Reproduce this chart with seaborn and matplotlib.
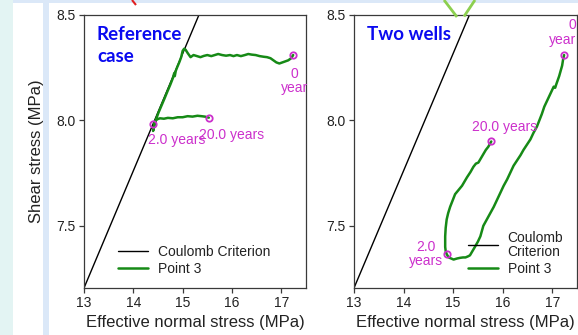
import matplotlib
matplotlib.use("Agg")
import matplotlib.pyplot as plt
from matplotlib.lines import Line2D
from matplotlib.patches import Rectangle
import pandas as pd
import seaborn as sns

W, H, DPI = 578, 335, 100

# axis ranges and ticks
x_lim = (13.0, 17.5)
y_lim = (7.205, 8.5)
x_ticks = [13, 14, 15, 16, 17]
y_ticks = [7.5, 8.0, 8.5]

# Coulomb failure line (end points)
coulomb_sigma = [13.0, 15.5]
coulomb_tau = [7.205, 8.595]

# Point 3 stress path, reference case (0 year -> 2.0 years -> 20.0 years)
ref_sigma = [17.24, 17.20, 17.14, 17.08, 17.02, 16.96, 16.90, 16.84, 16.78, 16.71,
             16.64, 16.56, 16.48, 16.40, 16.33, 16.26, 16.18, 16.10, 16.03, 15.96,
             15.88, 15.80, 15.72, 15.65, 15.58, 15.50, 15.43, 15.36, 15.29, 15.22,
             15.16, 15.10, 15.06, 15.03, 15.00, 14.97, 14.93, 14.89, 14.86, 14.84,
             14.83, 14.80, 14.75, 14.69, 14.63, 14.57, 14.51, 14.46, 14.42, 14.40,
             14.41, 14.44, 14.48, 14.54, 14.62, 14.70, 14.80, 14.90, 15.00, 15.10,
             15.20, 15.30, 15.38, 15.45, 15.53]
ref_tau = [8.31, 8.295, 8.285, 8.28, 8.275, 8.27, 8.275, 8.285, 8.295, 8.30,
           8.302, 8.305, 8.31, 8.312, 8.315, 8.31, 8.305, 8.31, 8.305, 8.31,
           8.307, 8.31, 8.315, 8.31, 8.305, 8.31, 8.306, 8.30, 8.305, 8.31,
           8.30, 8.32, 8.335, 8.34, 8.33, 8.30, 8.275, 8.253, 8.235, 8.21,
           8.225, 8.20, 8.17, 8.137, 8.103, 8.07, 8.037, 8.005, 7.975, 7.95,
           7.96, 7.995, 8.005, 8.01, 8.008, 8.012, 8.01, 8.015, 8.015, 8.02,
           8.018, 8.022, 8.02, 8.018, 8.013]

# Point 3 stress path, two wells
wells_sigma = [17.24, 17.22, 17.20, 17.17, 17.14, 17.11, 17.08, 17.06, 17.03, 17.01,
               16.99, 16.96, 16.93, 16.89, 16.84, 16.79, 16.74, 16.69, 16.62, 16.56,
               16.49, 16.42, 16.36, 16.29, 16.22, 16.15, 16.09, 16.02, 15.95, 15.88,
               15.82, 15.75, 15.68, 15.61, 15.58, 15.55, 15.50, 15.44, 15.39, 15.34,
               15.30, 15.25, 15.20, 15.14, 15.08, 15.01, 14.96, 14.91, 14.87, 14.85,
               14.84, 14.84, 14.85, 14.87, 14.90, 14.94, 14.99, 15.04, 15.11, 15.18,
               15.23, 15.28, 15.35, 15.41, 15.46, 15.51, 15.56, 15.61, 15.66, 15.71,
               15.77]
wells_tau = [8.31, 8.29, 8.26, 8.235, 8.21, 8.19, 8.17, 8.155, 8.16, 8.15,
             8.14, 8.125, 8.11, 8.09, 8.065, 8.03, 8.00, 7.97, 7.94, 7.91,
             7.885, 7.86, 7.835, 7.81, 7.785, 7.75, 7.72, 7.69, 7.655, 7.62,
             7.59, 7.56, 7.53, 7.50, 7.475, 7.45, 7.425, 7.40, 7.38, 7.36,
             7.355, 7.35, 7.35, 7.348, 7.345, 7.34, 7.345, 7.35, 7.366, 7.38,
             7.40, 7.45, 7.49, 7.53, 7.56, 7.59, 7.62, 7.65, 7.67, 7.69,
             7.71, 7.73, 7.755, 7.78, 7.795, 7.80, 7.82, 7.84, 7.86, 7.875,
             7.90]

# time markers: 0 year, 2.0 years, 20.0 years
ref_mark_sigma = [17.24, 14.40, 15.53]
ref_mark_tau = [8.31, 7.983, 8.013]
wells_mark_sigma = [17.24, 14.87, 15.77]
wells_mark_tau = [8.31, 7.366, 7.90]

# time labels: (text, sigma, tau, ha)
ref_labels = [("0\nyear", 17.26, 8.187, "center"),
              ("2.0 years", 14.29, 7.908, "left"),
              ("20.0 years", 15.34, 7.931, "left")]
wells_labels = [("0\nyear", 17.485, 8.417, "right"),
                ("2.0\nyears", 14.455, 7.367, "center"),
                ("20.0 years", 16.04, 7.969, "center")]

GREEN = "#168a16"
MAGENTA = "#cc30cc"
BLUE = "#0a0af0"
SPINE = "#3a3a3a"

sns.set_style("ticks")
plt.rcParams["font.family"] = ["Liberation Sans", "DejaVu Sans"]
plt.rcParams["font.size"] = 10

fig = plt.figure(figsize=(W / DPI, H / DPI), dpi=DPI)
fig.patch.set_facecolor("#dbe8f8")


def px_rect(x0, y0, x1, y1, color):
    fig.patches.append(Rectangle((x0 / W, 1 - y1 / H), (x1 - x0) / W, (y1 - y0) / H,
                                 transform=fig.transFigure, facecolor=color,
                                 edgecolor="none", zorder=-10))


def px_line(x0, y0, x1, y1, color, lw):
    fig.lines.append(Line2D([x0 / W, x1 / W], [1 - y0 / H, 1 - y1 / H],
                            transform=fig.transFigure, color=color, lw=lw,
                            solid_capstyle="butt"))


# slide background
px_rect(0, 0, 13, H, "#e3f4f3")
px_rect(13, 3, 43, H, "white")
px_rect(49, 3, W, H, "white")

ax_left = fig.add_axes([84 / W, 1 - 288 / H, 222 / W, 273 / H])
ax_right = fig.add_axes([354 / W, 1 - 288 / H, 223 / W, 273 / H])

panels = [
    (ax_left, "Reference\ncase", ref_sigma, ref_tau, ref_mark_sigma, ref_mark_tau,
     ref_labels, "Coulomb Criterion", (0.153, 0.158)),
    (ax_right, "Two wells", wells_sigma, wells_tau, wells_mark_sigma, wells_mark_tau,
     wells_labels, "Coulomb\nCriterion", (0.511, 0.210)),
]

for ax, title, sig, tau, msig, mtau, labels, crit_label, leg_pos in panels:
    crit = pd.DataFrame({"sigma": coulomb_sigma, "tau": coulomb_tau})
    path = pd.DataFrame({"sigma": sig, "tau": tau})
    sns.lineplot(data=crit, x="sigma", y="tau", ax=ax, color="black", lw=1.0,
                 sort=False, estimator=None, label=crit_label)
    sns.lineplot(data=path, x="sigma", y="tau", ax=ax, color=GREEN, lw=1.8,
                 sort=False, estimator=None, label="Point 3")
    ax.plot(msig, mtau, "o", ms=4.6, mfc="none", mec=MAGENTA, mew=1.3, zorder=5)
    for text, sx, ty, ha in labels:
        ax.text(sx, ty, text, color=MAGENTA, fontsize=10, ha=ha, va="center",
                multialignment=ha, linespacing=1.05)

    ax.set_xlim(*x_lim)
    ax.set_ylim(*y_lim)
    ax.set_xticks(x_ticks)
    ax.set_yticks(y_ticks)
    ax.set_xticklabels([str(t) for t in x_ticks])
    ax.set_yticklabels([f"{t:.1f}" for t in y_ticks])
    ax.tick_params(direction="out", length=3.5, width=0.9, pad=2.5, labelsize=10,
                   color=SPINE, labelcolor="#222222")
    for s in ax.spines.values():
        s.set_visible(True)
        s.set_color(SPINE)
        s.set_linewidth(0.9)
    ax.set_xlabel("Effective normal stress (MPa)", fontsize=12, labelpad=3,
                  color="#222222")
    ax.set_ylabel("")

    ax.text(0.058, 0.958, title, transform=ax.transAxes, ha="left", va="top",
            fontsize=13.5, fontweight="bold", color=BLUE, family=["Lato", "DejaVu Sans"],
            linespacing=1.35)

    leg = ax.legend(loc="upper left", bbox_to_anchor=leg_pos, frameon=False,
                    fontsize=10, handlelength=2.15, handletextpad=0.7,
                    borderpad=0, borderaxespad=0, labelspacing=0.25)
    for t in leg.get_texts():
        t.set_linespacing(1.0)
        t.set_color("#222222")

ax_left.set_ylabel("Shear stress (MPa)", fontsize=12, labelpad=9, color="#222222")

# slide annotation marks along the top edge
px_line(444, 0, 457, 17, "#8ccf4f", 2.0)
px_line(475, 0, 464, 16.5, "#8ccf4f", 2.0)
px_line(132, 0, 136, 5, "#e02020", 1.5)

fig.savefig("out.png", dpi=DPI, facecolor=fig.get_facecolor())
